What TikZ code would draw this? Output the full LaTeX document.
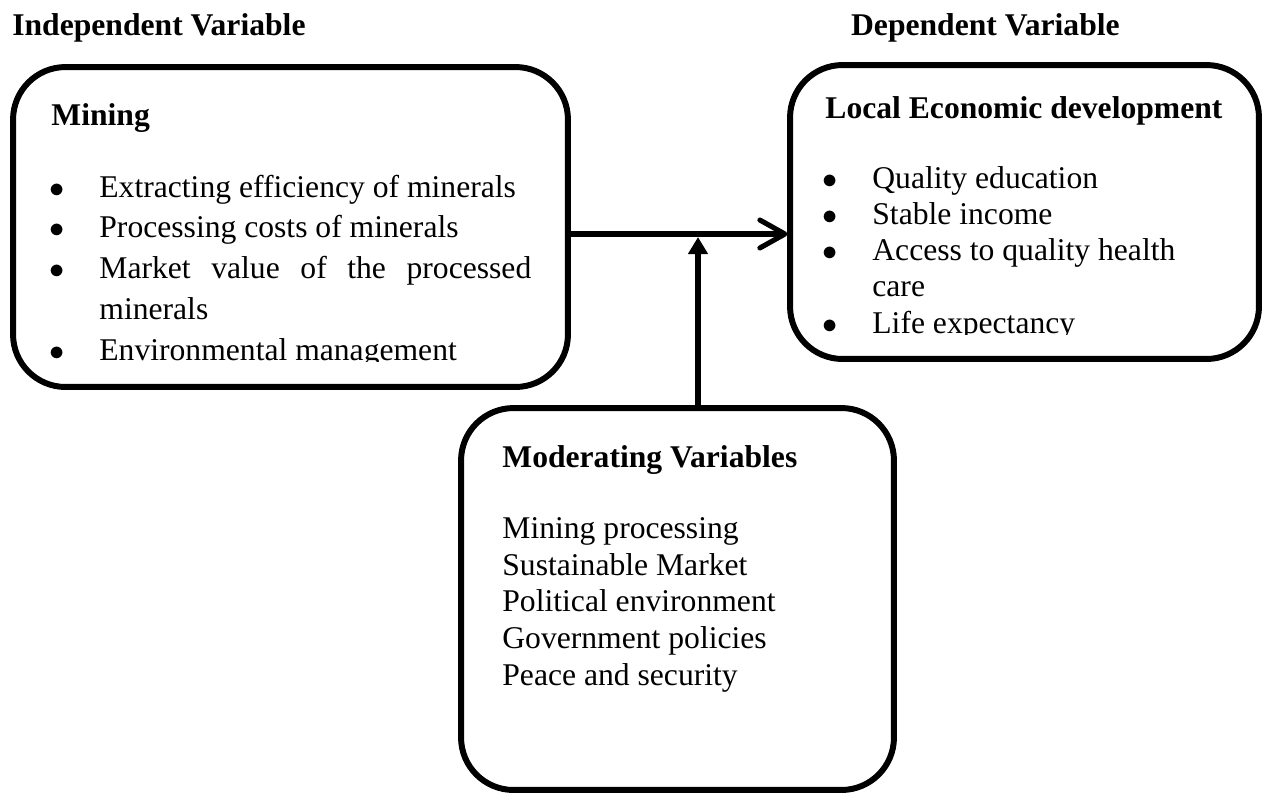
\documentclass[tikz,border=0pt]{standalone}
\usepackage{fontspec}
\setmainfont{Liberation Serif}
\usetikzlibrary{arrows.meta, positioning, calc}
\newcommand{\itm}{\makebox[1cm][l]{$\bullet$}}

\begin{document}
\begin{tikzpicture}[x=0.02cm, y=-0.02cm,
    v/.style={draw, line width=3.4pt, rounded corners=1.05cm, inner sep=0, outer sep=0},
    hd/.style={font=\fontsize{18}{22}\selectfont\bfseries, inner sep=0},
    tt/.style={font=\fontsize{18}{22}\selectfont\bfseries, inner sep=0},
    ls/.style={align=left, inner sep=0, font={\fontsize{18}{#1}\selectfont}},
    ar/.style={line width=2.9pt}]
      \useasboundingbox (0,0) rectangle (1270,796);

      \node[v, minimum width=11.1cm, minimum height=6.4cm] (mining) at (290.5,227) {};
      \node[v, minimum width=9.38cm, minimum height=5.88cm] (led) at (1024.5,212) {};
      \node[v, minimum width=8.66cm, minimum height=7.64cm] (moder) at (677.5,599) {};

      \node[hd, anchor=base west] (indep) at (12,35) {Independent Variable};
      \node[hd, anchor=base east] (dep) at (1120,35) {Dependent Variable};

      \node[tt, anchor=base west] (mtitle) at ([shift={(38,58)}]mining.north west) {Mining};
      \begin{scope}
        \clip (mining.north west) rectangle (567,361);
        \node[ls=23.2, anchor=base west] (mlist) at ([shift={(36,293)}]mining.north west)
          {\itm Extracting efficiency of minerals\\
           \itm Processing costs of minerals\\
           \itm\makebox[8.64cm][s]{Market value of the processed}\\
           \hspace*{1cm}minerals\\
           \itm Environmental management};
      \end{scope}

      \node[tt, anchor=base west] (ltitle) at ([shift={(35,53)}]led.north west) {Local Economic development};
      \begin{scope}
        \clip (led.north west) rectangle (1259,334);
        \node[ls=20.6, anchor=base west] (llist) at ([shift={(32,268)}]led.north west)
          {\itm Quality education\\
           \itm Stable income\\
           \itm Access to quality health\\
           \hspace*{1cm}care\\
           \itm Life expectancy};
      \end{scope}

      \node[tt, anchor=base west] (dtitle) at ([shift={(41,59)}]moder.north west) {Moderating Variables};
      \node[ls=20.8, anchor=base west] (dlist) at ([shift={(41,277)}]moder.north west)
        {Mining processing\\
         Sustainable Market\\
         Political environment\\
         Government policies\\
         Peace and security};

      \coordinate (mid) at (698,234);
      \draw[ar, -{Straight Barb[round, length=0.5cm, width=0.56cm]}, shorten >=1.5pt] (mining.east |- mid) -- (led.west |- mid);
      \draw[ar, -{Triangle[length=0.34cm, width=0.38cm]}] (moder.north -| mid) -- ([yshift=-0.06cm]mid);
\end{tikzpicture}
\end{document}
